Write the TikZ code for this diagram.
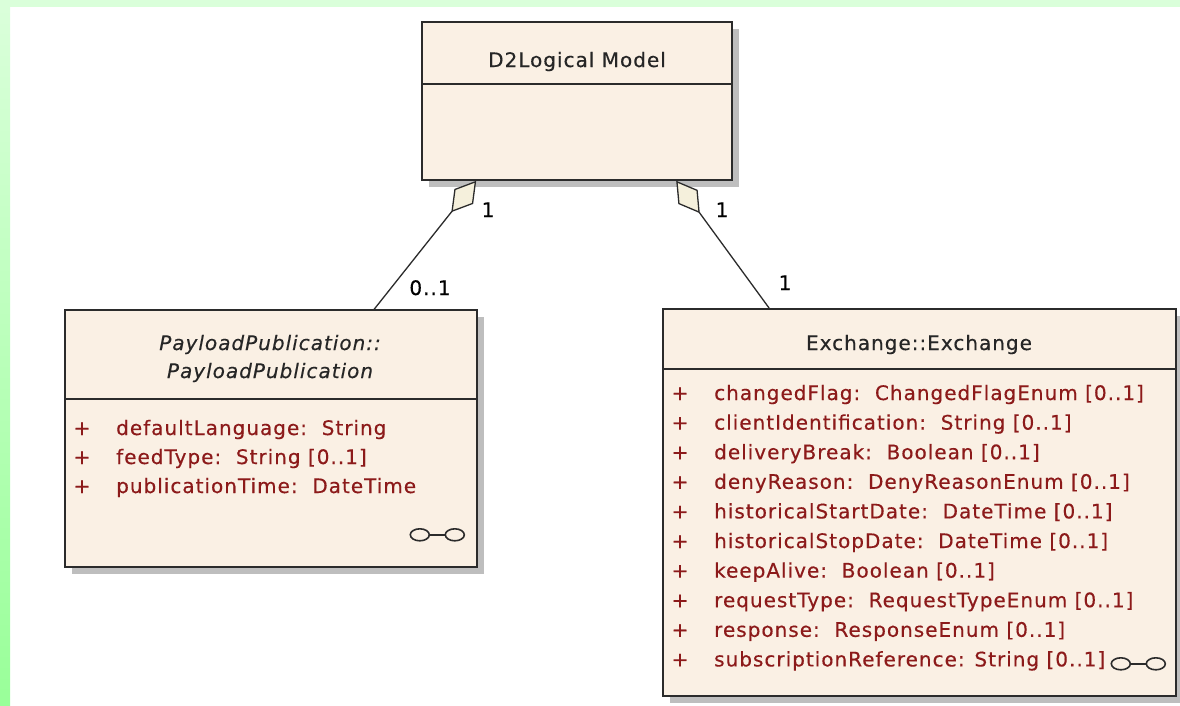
\documentclass[tikz,border=0pt]{standalone}
\usepackage{fontspec}
\setmainfont{DejaVu Sans}[LetterSpace=5,FakeBold=0.4]
\usetikzlibrary{arrows.meta,calc,shadows}
\definecolor{boxfill}{HTML}{FAF0E4}
\definecolor{diamondfill}{HTML}{F5F0DC}
\definecolor{boxline}{HTML}{2B2B2B}
\definecolor{attrred}{HTML}{8C1A1A}
\definecolor{shadowgray}{HTML}{BEBEBE}
\definecolor{bandtop}{HTML}{DAFFDA}
\definecolor{bandbot}{HTML}{99FF99}
\definecolor{titletext}{HTML}{262626}
\tikzset{
  linkicon/.pic={
    \draw[boxline, line width=1.6pt] (0,0) ellipse [x radius=9.5, y radius=6];
    \draw[boxline, line width=1.6pt] (35,0) ellipse [x radius=9.5, y radius=6];
    \draw[boxline, line width=1.6pt] (9.5,0) -- (25.5,0);
  }
}
\begin{document}
\begin{tikzpicture}[x=1pt,y=-1pt,
  umlbox/.style={draw=boxline, line width=1.6pt, fill=boxfill, rectangle, inner sep=0pt,
    drop shadow={shadow xshift=7pt, shadow yshift=-7pt, fill=shadowgray, opacity=1}},
  divider/.style={draw=boxline, line width=1.6pt},
  titlelabel/.style={text=titletext, font=\fontsize{20}{24}\selectfont, inner sep=0pt, anchor=base},
  attr/.style={text=attrred, font=\fontsize{20}{24}\selectfont, inner sep=0pt, anchor=base west},
  plussign/.style={text=attrred, font=\fontsize{20}{24}\selectfont, inner sep=0pt, anchor=base},
  mult/.style={text=black, font=\fontsize{20}{24}\selectfont, inner sep=0pt, anchor=base},
  assoc/.style={draw=boxline, line width=1.3pt},
  agg/.style={arrows={Diamond[length=40pt,width=24pt,fill=diamondfill]-}}
]
\useasboundingbox (0,0) rectangle (1180,705);
\fill[white] (0,0) rectangle (1180,705);
\fill[bandtop] (0,0) rectangle (1180,7);
\shade[top color=bandtop, bottom color=bandbot] (0,7) rectangle (10,705);

% classes
\node[umlbox, minimum width=310, minimum height=158] (model) at (577,101) {};
\node[umlbox, minimum width=412, minimum height=257] (payload) at (271,438.5) {};
\node[umlbox, minimum width=513, minimum height=387] (exchange) at (919.5,502.5) {};

\draw[divider] ($(model.north west)+(0,63)$) -- ($(model.north east)+(0,63)$);
\draw[divider] ($(payload.north west)+(0,90)$) -- ($(payload.north east)+(0,90)$);
\draw[divider] ($(exchange.north west)+(0,61)$) -- ($(exchange.north east)+(0,61)$);

\node[titlelabel] (modelname) at (577,67) {D2Logical Model};
\node[titlelabel, font=\fontsize{20}{24}\selectfont\itshape] (payloadname1) at (270,350) {PayloadPublication::};
\node[titlelabel, font=\fontsize{20}{24}\selectfont\itshape] (payloadname2) at (270,378) {PayloadPublication};
\node[titlelabel] (exchangename) at (919,350) {Exchange::Exchange};

% attributes
\foreach \t [count=\i from 0] in {{defaultLanguage:\ \ String},{feedType:\ \ String [0..1]},{publicationTime:\ \ DateTime}}{
  \node[plussign] (pp\i) at (82,435+29*\i) {+};
  \node[attr] (pa\i) at (116,435+29*\i) {\t};
}
\foreach \t [count=\i from 0] in {
  {changedFlag:\ \ ChangedFlagEnum [0..1]},
  {clientIdentification:\ \ String [0..1]},
  {deliveryBreak:\ \ Boolean [0..1]},
  {denyReason:\ \ DenyReasonEnum [0..1]},
  {historicalStartDate:\ \ DateTime [0..1]},
  {historicalStopDate:\ \ DateTime [0..1]},
  {keepAlive:\ \ Boolean [0..1]},
  {requestType:\ \ RequestTypeEnum [0..1]},
  {response:\ \ ResponseEnum [0..1]},
  {subscriptionReference: String [0..1]}}{
  \node[plussign] (ep\i) at (680,400+29.6*\i) {+};
  \node[attr] (ea\i) at (714,400+29.6*\i) {\t};
}

\pic at ($(payload.south east)+(-58,-33)$) {linkicon};
\pic at ($(exchange.south east)+(-56,-33)$) {linkicon};

% associations
\coordinate (a1) at ($(model.south west)+(55,0)$);
\coordinate (b1) at ($(payload.north west)+(310,0)$);
\coordinate (a2) at ($(model.south west)+(255,0)$);
\coordinate (b2) at ($(exchange.north west)+(107,0)$);
\draw[assoc, agg] (a1) -- (b1);
\draw[assoc, agg] (a2) -- (b2);

\node[mult] (m1) at (488,217) {1};
\node[mult] (m2) at (430,295) {0..1};
\node[mult] (m3) at (722,217) {1};
\node[mult] (m4) at (785,290) {1};
\end{tikzpicture}
\end{document}
